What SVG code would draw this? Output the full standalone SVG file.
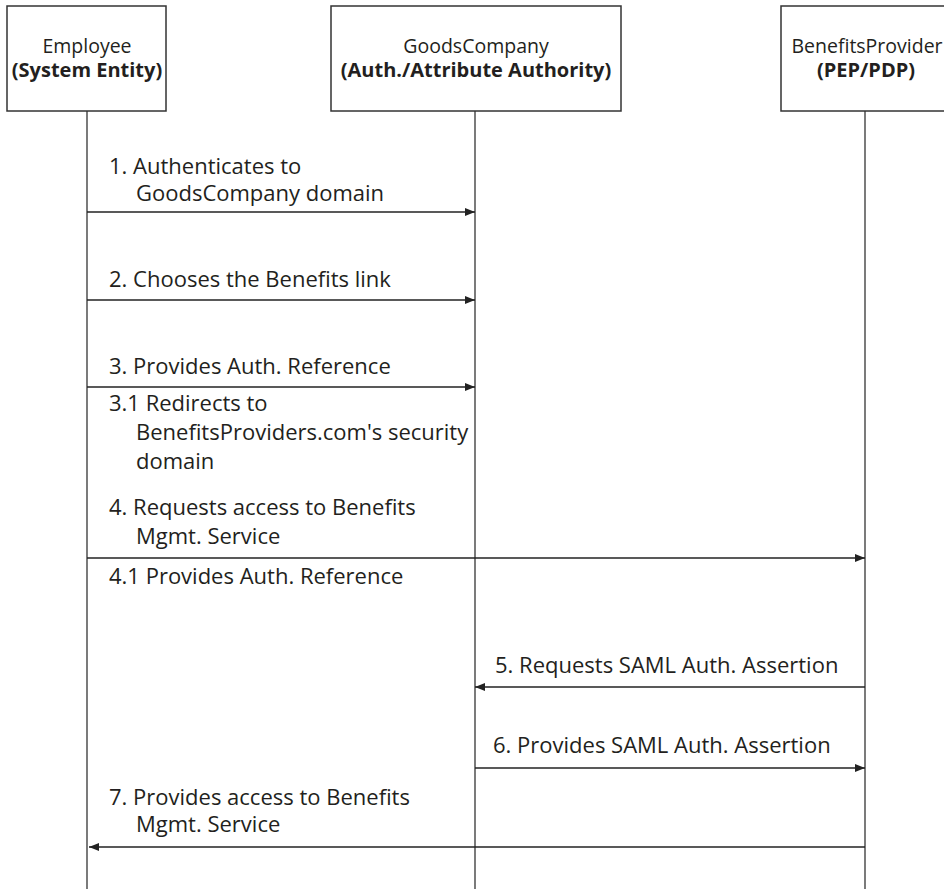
<svg xmlns="http://www.w3.org/2000/svg" width="944" height="889" viewBox="0 0 944 889">
<style>
.box{fill:#fff;stroke:#333;stroke-width:1.5}
.life{stroke:#333;stroke-width:1.3;fill:none}
.msg{stroke:#222;stroke-width:1.3;fill:none}
text{font-family:"Open Sans","Liberation Sans",sans-serif;fill:#231f20}
.h{font-size:19.5px;text-anchor:middle}
.hb{font-size:20px;text-anchor:middle;font-weight:bold}
.t{font-size:22px}
</style>
<defs>
<marker id="ah" viewBox="0 0 10 8" refX="10" refY="4" markerWidth="10" markerHeight="8" markerUnits="userSpaceOnUse" orient="auto">
<path d="M0,0 L10,4 L0,8 z" fill="#222"/>
</marker>
</defs>
<rect width="944" height="889" fill="#fff"/>
<g id="lifelines">
<line class="life" x1="87" y1="111" x2="87" y2="889"/>
<line class="life" x1="475" y1="111" x2="475" y2="889"/>
<line class="life" x1="865" y1="111" x2="865" y2="889"/>
</g>
<g id="employee">
<rect class="box" x="7" y="6" width="159" height="105"/>
<text class="h" x="87" y="53">Employee</text>
<text class="hb" x="87" y="77">(System Entity)</text>
</g>
<g id="goodscompany">
<rect class="box" x="331" y="6" width="290" height="105"/>
<text class="h" x="476" y="53">GoodsCompany</text>
<text class="hb" x="476" y="77">(Auth./Attribute Authority)</text>
</g>
<g id="benefitsprovider">
<rect class="box" x="781" y="6" width="168" height="105"/>
<text class="h" x="867" y="53">BenefitsProvider</text>
<text class="hb" x="866" y="77">(PEP/PDP)</text>
</g>
<g id="connectors">
<line class="msg" x1="87" y1="212" x2="475" y2="212" marker-end="url(#ah)"/>
<line class="msg" x1="87" y1="300" x2="475" y2="300" marker-end="url(#ah)"/>
<line class="msg" x1="87" y1="387" x2="475" y2="387" marker-end="url(#ah)"/>
<line class="msg" x1="87" y1="558" x2="865" y2="558" marker-end="url(#ah)"/>
<line class="msg" x1="865" y1="687" x2="475" y2="687" marker-end="url(#ah)"/>
<line class="msg" x1="475" y1="768" x2="865" y2="768" marker-end="url(#ah)"/>
<line class="msg" x1="865" y1="847" x2="89" y2="847" marker-end="url(#ah)"/>
</g>
<g id="labels">
<text class="t" x="109" y="174">1. Authenticates to</text>
<text class="t" x="136" y="201">GoodsCompany domain</text>
<text class="t" x="109" y="287">2. Chooses the Benefits link</text>
<text class="t" x="109" y="374">3. Provides Auth. Reference</text>
<text class="t" x="109" y="411">3.1 Redirects to</text>
<text class="t" x="136" y="440">BenefitsProviders.com's security</text>
<text class="t" x="136" y="469">domain</text>
<text class="t" x="109" y="515">4. Requests access to Benefits</text>
<text class="t" x="136" y="544">Mgmt. Service</text>
<text class="t" x="109" y="584">4.1 Provides Auth. Reference</text>
<text class="t" x="495" y="673">5. Requests SAML Auth. Assertion</text>
<text class="t" x="493" y="753">6. Provides SAML Auth. Assertion</text>
<text class="t" x="109" y="805">7. Provides access to Benefits</text>
<text class="t" x="136" y="832">Mgmt. Service</text>
</g>
</svg>
